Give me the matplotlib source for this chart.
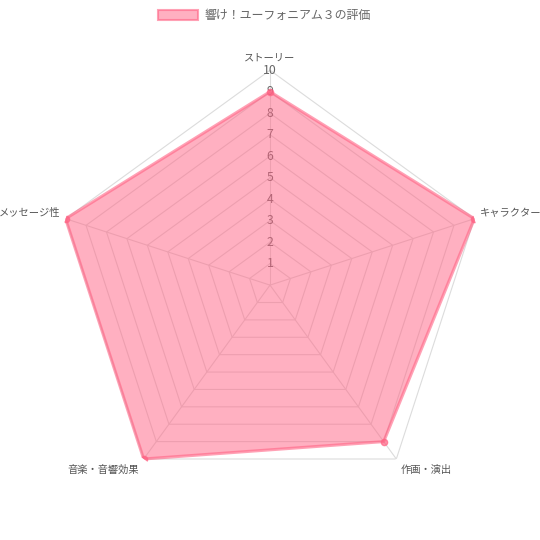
import numpy as np
import matplotlib.pyplot as plt
from matplotlib.patches import Patch

plt.rcParams['font.family'] = ['Noto Sans CJK JP', 'DejaVu Sans']

# chart data
labels = ['ストーリー', 'キャラクター', '作画・演出', '音楽・音響効果', 'メッセージ性']
scores = [9, 10, 9, 10, 10]
levels = list(range(1, 11))
title = '響け！ユーフォニアム３の評価'

n = len(labels)
angles = np.linspace(0, 2 * np.pi, n, endpoint=False)
ang_closed = np.append(angles, angles[0])
val_closed = np.append(scores, scores[0])

fig = plt.figure(figsize=(5.4, 5.4), dpi=100)
ax = fig.add_axes([0.102, 0.074, 0.796, 0.796], projection='polar')
ax.set_theta_zero_location('N')
ax.set_theta_direction(-1)
ax.set_ylim(0, 10)
ax.set_xticks([])
ax.set_yticks([])
ax.grid(False)
ax.spines['polar'].set_visible(False)
ax.patch.set_alpha(0)

grid_c = '#dcdcdc'
# pentagon grid
for lv in levels:
    ax.plot(ang_closed, [lv] * (n + 1), color=grid_c, lw=0.8, zorder=1)
# angle lines
for a in angles:
    ax.plot([a, a], [0, 10], color=grid_c, lw=0.8, zorder=1)

# tick labels (drawn under the fill)
for lv in levels:
    ax.text(0, lv, str(lv), ha='center', va='center', fontsize=8.8,
            color='#666666', zorder=2)

# data
pink = '#ff6384'
ax.fill(ang_closed, val_closed, color=pink, alpha=0.5, lw=0, zorder=3)
ax.plot(ang_closed, val_closed, color=pink, alpha=0.6, lw=2.2, zorder=4)
ax.plot(angles, scores, 'o', color=pink, alpha=0.7, ms=4.5, zorder=5)

# point labels
offsets = [(0, 9, 'center', 'center'),
           (4, 4, 'left', 'center'),
           (3, -8, 'left', 'center'),
           (-3, -8, 'right', 'center'),
           (-4, 4, 'right', 'center')]
for a, lab, (dx, dy, ha, va) in zip(angles, labels, offsets):
    ax.annotate(lab, xy=(a, 10), xytext=(dx, dy), textcoords='offset points',
                ha=ha, va=va, fontsize=7.4, color='#555555',
                annotation_clip=False)

# legend
h = Patch(facecolor=(1, 0.388, 0.518, 0.5), edgecolor=(1, 0.388, 0.518, 0.6), lw=1.5)
fig.legend([h], [title], loc='upper center', bbox_to_anchor=(0.49, 1.003),
           frameon=False, fontsize=8.6, handlelength=3.3, handleheight=1.0,
           handletextpad=0.6, labelcolor='#666666')

fig.savefig('out.png', dpi=100)
